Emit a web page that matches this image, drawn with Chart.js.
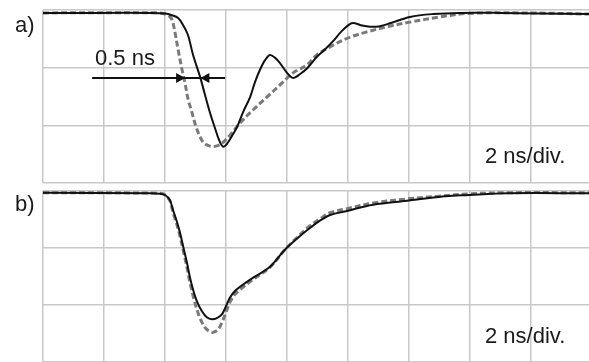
<!DOCTYPE html>
<html lang="en">
<head>
<meta charset="UTF-8">
<title>Pulse comparison</title>
<script src="https://cdn.jsdelivr.net/npm/chart.js@4.4.1/dist/chart.umd.min.js"></script>
<style>
  body { margin: 0; background: #fff; }
  #wrap { position: relative; width: 589px; height: 362px; overflow: hidden; }
  canvas { position: absolute; left: 0; }
  .lbl { position: absolute; font-family: "Liberation Sans", Arial, sans-serif; font-size: 22px; line-height: 22px; color: #1a1a1a; white-space: nowrap; }
</style>
</head>
<body>
<div id="wrap">
  <canvas id="chartA" width="589" height="186" style="top:0"></canvas>
  <canvas id="chartB" width="589" height="176" style="top:186px"></canvas>
  <div class="lbl" style="left:15px;top:14px">a)</div>
  <div class="lbl" style="left:95px;top:47px">0.5 ns</div>
  <div class="lbl" style="left:485px;top:145px">2 ns/div.</div>
  <div class="lbl" style="left:15px;top:193px">b)</div>
  <div class="lbl" style="left:485px;top:325px">2 ns/div.</div>
</div>
<script>
// time in ns, amplitude in vertical divisions
var timeA1 = [0, 1.87, 3.51, 4.00, 4.23, 4.43, 4.59, 4.75, 4.92, 5.15, 5.31, 5.48, 5.64, 5.77, 5.90, 6.03, 6.20, 6.36, 6.56, 6.79, 6.95, 7.11, 7.28, 7.44, 7.61, 7.77, 8.00, 8.20, 8.43, 8.66, 8.98, 9.25, 9.51, 9.77, 10.07, 10.23, 10.46, 10.72, 11.05, 11.38, 12.03, 12.79, 13.67, 14.98, 16.30, 17.90];
var valA1 = [-0.05, -0.05, -0.05, -0.06, -0.09, -0.14, -0.26, -0.43, -0.78, -1.16, -1.47, -1.79, -2.05, -2.25, -2.37, -2.32, -2.18, -2.03, -1.77, -1.51, -1.25, -1.04, -0.87, -0.78, -0.83, -0.92, -1.09, -1.18, -1.11, -1.01, -0.81, -0.68, -0.54, -0.38, -0.24, -0.23, -0.27, -0.29, -0.28, -0.23, -0.12, -0.07, -0.05, -0.05, -0.06, -0.07];

var timeA2 = [0, 3.84, 4.00, 4.13, 4.23, 4.33, 4.43, 4.56, 4.66, 4.75, 4.89, 5.02, 5.15, 5.28, 5.48, 5.67, 5.87, 6.13, 6.46, 6.89, 7.34, 7.77, 8.20, 8.66, 8.98, 9.51, 10.07, 10.62, 11.28, 12.03, 13.02, 13.90, 15.64, 17.90];
var valA2 = [-0.05, -0.05, -0.07, -0.10, -0.17, -0.40, -0.69, -1.04, -1.28, -1.53, -1.79, -2.03, -2.20, -2.31, -2.36, -2.36, -2.31, -2.17, -1.96, -1.73, -1.51, -1.30, -1.09, -0.95, -0.78, -0.61, -0.47, -0.38, -0.29, -0.21, -0.12, -0.06, -0.05, -0.07];

var timeB1 = [0, 3.51, 3.84, 4.00, 4.16, 4.26, 4.39, 4.49, 4.62, 4.72, 4.82, 4.92, 5.05, 5.21, 5.38, 5.54, 5.70, 5.87, 6.00, 6.13, 6.30, 6.46, 6.89, 7.44, 7.93, 8.36, 8.75, 9.08, 9.41, 9.97, 10.82, 11.93, 13.02, 13.97, 15.21, 17.90];
var valB1 = [-0.03, -0.04, -0.05, -0.07, -0.16, -0.33, -0.54, -0.73, -1.03, -1.26, -1.52, -1.73, -1.94, -2.11, -2.22, -2.25, -2.23, -2.16, -2.02, -1.87, -1.75, -1.68, -1.52, -1.33, -1.03, -0.82, -0.65, -0.52, -0.42, -0.35, -0.24, -0.17, -0.10, -0.07, -0.04, -0.04];

var timeB2 = [0, 3.84, 4.00, 4.16, 4.26, 4.39, 4.49, 4.62, 4.72, 4.82, 4.95, 5.11, 5.28, 5.44, 5.57, 5.74, 5.87, 6.00, 6.13, 6.30, 6.46, 6.89, 7.44, 7.93, 8.36, 8.75, 9.08, 9.41, 9.97, 10.82, 11.93, 13.02, 13.97, 15.21, 17.90];
var valB2 = [-0.03, -0.04, -0.07, -0.17, -0.37, -0.59, -0.79, -1.10, -1.34, -1.61, -1.90, -2.18, -2.37, -2.46, -2.48, -2.43, -2.30, -2.13, -1.95, -1.81, -1.73, -1.55, -1.34, -1.03, -0.80, -0.61, -0.49, -0.38, -0.31, -0.21, -0.14, -0.09, -0.05, -0.03, -0.03];

var xTicks = [0, 2, 4, 6, 8, 10, 12, 14, 16];

function pts(t, v) {
    return t.map(function (x, i) { return {x: x, y: v[i]}; });
}

// measurement arrow in panel a (0.5 ns gap)
var arrowPlugin = {
    id: 'arrow',
    afterDatasetsDraw: function (chart) {
        if (chart.canvas.id !== 'chartA') return;
        var ctx = chart.ctx, xs = chart.scales.x, ys = chart.scales.y;
        var yy = ys.getPixelForValue(-1.18);
        var x0 = xs.getPixelForValue(1.61), x1 = xs.getPixelForValue(5.97);
        var tipL = xs.getPixelForValue(4.66), tipR = xs.getPixelForValue(5.16);
        ctx.save();
        ctx.strokeStyle = '#111';
        ctx.fillStyle = '#111';
        ctx.lineWidth = 2;
        ctx.beginPath();
        ctx.moveTo(x0, yy);
        ctx.lineTo(x1, yy);
        ctx.stroke();
        ctx.beginPath();
        ctx.moveTo(tipL, yy);
        ctx.lineTo(tipL - 9, yy - 5);
        ctx.lineTo(tipL - 9, yy + 5);
        ctx.closePath();
        ctx.fill();
        ctx.beginPath();
        ctx.moveTo(tipR, yy);
        ctx.lineTo(tipR + 9, yy - 5);
        ctx.lineTo(tipR + 9, yy + 5);
        ctx.closePath();
        ctx.fill();
        ctx.restore();
    }
};

function makeChart(id, solid, dashed, pad) {
    var ctx = document.getElementById(id).getContext('2d');
    return new Chart(ctx, {
        type: 'line',
        data: {
            datasets: [
                {data: solid, borderColor: '#111', borderWidth: 2, pointRadius: 0, tension: 0.35, fill: false},
                {data: dashed, borderColor: '#7a7a7a', borderWidth: 3, borderDash: [6, 3], pointRadius: 0, tension: 0.35, fill: false}
            ]
        },
        options: {
            responsive: false,
            animation: false,
            events: [],
            layout: {padding: pad},
            plugins: {legend: {display: false}, tooltip: {enabled: false}},
            scales: {
                x: {
                    type: 'linear', min: 0, max: 17.9,
                    afterBuildTicks: function (axis) { axis.ticks = xTicks.map(function (v) { return {value: v}; }); },
                    ticks: {display: false},
                    grid: {color: '#c8c8c8', lineWidth: 1.5, drawTicks: false},
                    border: {display: false}
                },
                y: {
                    min: -3, max: 0,
                    ticks: {display: false, stepSize: 1},
                    grid: {color: '#c8c8c8', lineWidth: 1.5, drawTicks: false},
                    border: {display: false}
                }
            }
        },
        plugins: [arrowPlugin]
    });
}

makeChart('chartA', pts(timeA1, valA1), pts(timeA2, valA2), {left: 43, top: 10, right: 0, bottom: 3});
makeChart('chartB', pts(timeB1, valB1), pts(timeB2, valB2), {left: 43, top: 5, right: 0, bottom: 0});
</script>
</body>
</html>
